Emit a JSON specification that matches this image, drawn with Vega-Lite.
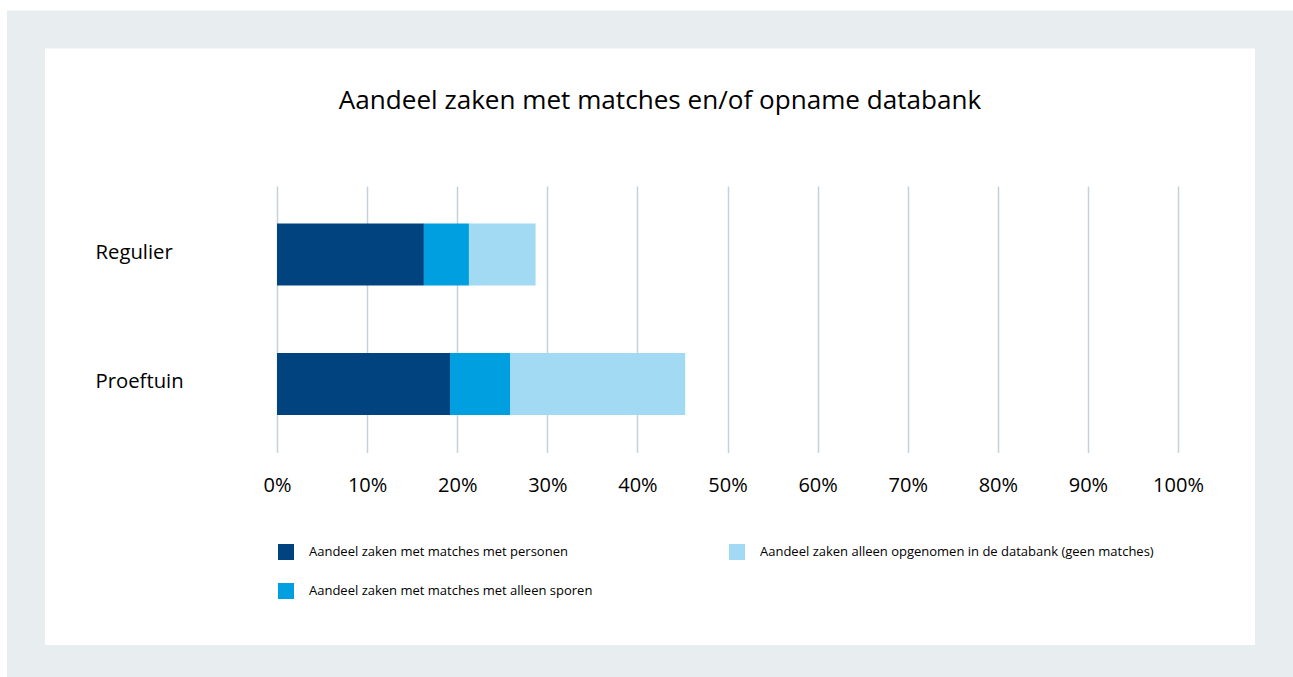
{
  "$schema": "https://vega.github.io/schema/vega-lite/v6.json",
  "width": 1248,
  "height": 634.5,
  "autosize": {"type": "none"},
  "padding": {"left": 26, "top": 29.5, "right": 19, "bottom": 13},
  "background": "white",
  "title": {
    "text": "Aandeel zaken met matches en/of opname databank",
    "anchor": "middle",
    "frame": "group",
    "orient": "top",
    "offset": -85,
    "dx": 10,
    "font": "Open Sans",
    "fontSize": 26.1,
    "fontWeight": "normal",
    "color": "#000000"
  },
  "data": {
    "values": [
      {"groep": "Regulier", "categorie": "Aandeel zaken met matches met personen", "aandeel": 16.3},
      {"groep": "Regulier", "categorie": "Aandeel zaken met matches met alleen sporen", "aandeel": 5.0},
      {"groep": "Regulier", "categorie": "Aandeel zaken alleen opgenomen in de databank (geen matches)", "aandeel": 7.4},
      {"groep": "Proeftuin", "categorie": "Aandeel zaken met matches met personen", "aandeel": 19.2},
      {"groep": "Proeftuin", "categorie": "Aandeel zaken met matches met alleen sporen", "aandeel": 6.7},
      {"groep": "Proeftuin", "categorie": "Aandeel zaken alleen opgenomen in de databank (geen matches)", "aandeel": 19.4}
    ]
  },
  "mark": {"type": "bar"},
  "encoding": {
    "y": {
      "field": "groep",
      "type": "nominal",
      "scale": {
        "domain": ["Regulier", "Proeftuin"],
        "range": [156.5, 423],
        "paddingInner": 0.52,
        "paddingOuter": 0.29
      },
      "axis": {
        "title": null,
        "domain": false,
        "ticks": false,
        "grid": false,
        "labelAlign": "left",
        "labelPadding": -69,
        "labelFont": "Open Sans",
        "labelFontSize": 20.3,
        "labelColor": "#000000",
        "labelOffset": -2
      }
    },
    "x": {
      "field": "aandeel",
      "type": "quantitative",
      "stack": "zero",
      "scale": {"domain": [-27.86, 110.65], "nice": false, "zero": false},
      "axis": {
        "title": null,
        "orient": "top",
        "values": [0, 10, 20, 30, 40, 50, 60, 70, 80, 90, 100],
        "labelExpr": "datum.value + '%'",
        "domain": false,
        "ticks": false,
        "grid": true,
        "gridColor": "#c5d2dc",
        "gridWidth": 1.5,
        "gridOpacity": 1,
        "labelBaseline": "alphabetic",
        "labelPadding": -462,
        "labelFont": "Open Sans",
        "labelFontSize": 20,
        "labelColor": "#000000",
        "labelFlush": false,
        "labelOverlap": false
      }
    },
    "color": {
      "field": "categorie",
      "type": "nominal",
      "scale": {
        "domain": [
          "Aandeel zaken met matches met personen",
          "Aandeel zaken met matches met alleen sporen",
          "Aandeel zaken alleen opgenomen in de databank (geen matches)"
        ],
        "range": ["#00437f", "#009fe0", "#a3daf3"]
      },
      "legend": {
        "title": null,
        "orient": "none",
        "legendX": 252,
        "legendY": 514.5,
        "columns": 2,
        "columnPadding": 136,
        "rowPadding": 23,
        "symbolType": "square",
        "symbolSize": 256,
        "symbolStrokeWidth": 0,
        "symbolOpacity": 1,
        "labelOffset": 15,
        "labelFont": "Open Sans",
        "labelFontSize": 13,
        "labelColor": "#000000",
        "labelLimit": 0
      }
    },
    "order": {"field": "categorie", "sort": "descending"}
  },
  "config": {
    "view": {"fill": "white", "stroke": "#e8edf0", "strokeWidth": 38},
    "font": "Open Sans"
  }
}
